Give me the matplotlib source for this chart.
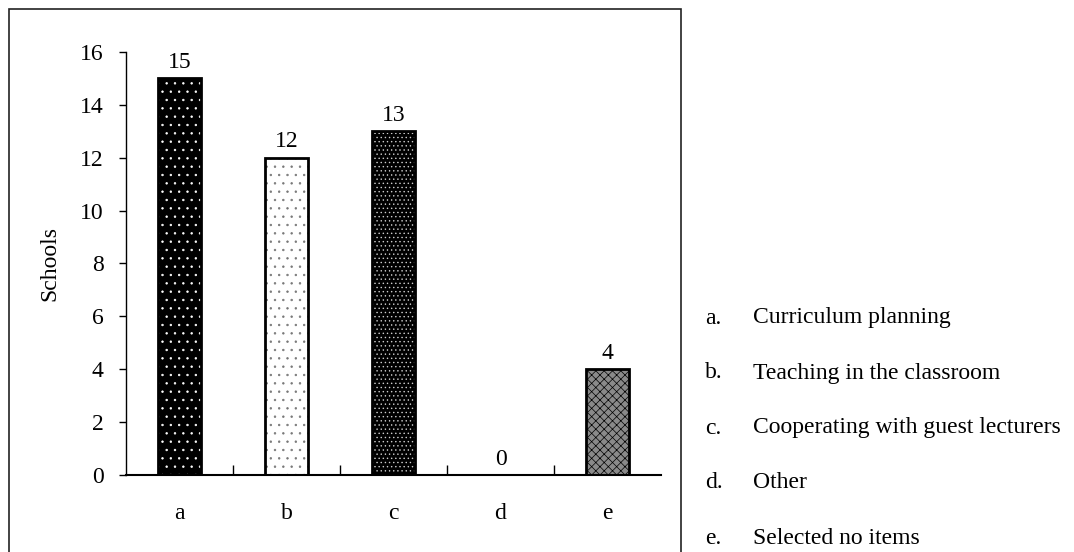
import matplotlib.pyplot as plt
from matplotlib.patches import Rectangle

plt.rcParams["font.family"] = ["Liberation Serif", "DejaVu Serif"]
plt.rcParams["hatch.linewidth"] = 0.5

categories = ["a", "b", "c", "d", "e"]
schools = [15, 12, 13, 0, 4]
legend_labels = [
    "Curriculum planning",
    "Teaching in the classroom",
    "Cooperating with guest lecturers",
    "Other",
    "Selected no items",
]

# face colour, hatch colour, hatch pattern
styles = [
    ("black", "white", ".."),
    ("white", "#777777", ".."),
    ("black", "#cccccc", "...."),
    ("white", "#777777", ".."),
    ("#8a8a8a", "black", "xxxx"),
]

FS = 17

fig = plt.figure(figsize=(10.74, 5.52), dpi=100)
ax = fig.add_axes([0.1173, 0.1395, 0.4982, 0.7663])

x = range(len(categories))
w = 0.41
for i, v in enumerate(schools):
    face, hcol, hatch = styles[i]
    if v > 0:
        ax.bar(i, v, width=w, color=face, edgecolor=hcol, hatch=hatch, linewidth=0, zorder=2)
        ax.bar(i, v, width=w, fill=False, edgecolor="black", linewidth=2, zorder=3)
    ax.text(i, v + 0.2, str(v), ha="center", va="bottom", fontsize=FS)

ax.set_xlim(-0.5, 4.5)
ax.set_ylim(0, 16)
ax.set_yticks(range(0, 17, 2))
ax.set_xticks(list(x))
ax.set_xticklabels(categories, fontsize=FS)
ax.set_xticks([0.5, 1.5, 2.5, 3.5], minor=True)
ax.tick_params(axis="x", which="major", length=0, pad=20)
ax.tick_params(axis="x", which="minor", direction="in", length=7, width=1)
ax.tick_params(axis="y", direction="out", length=5, width=1, labelsize=FS, pad=11)
ax.set_ylabel("Schools", fontsize=FS, labelpad=14)
for s in ["top", "right"]:
    ax.spines[s].set_visible(False)
ax.spines["left"].set_linewidth(1)
ax.spines["bottom"].set_linewidth(1.5)

# outer frame around the chart
fig.patches.append(Rectangle((9 / 1074, -0.1), 672 / 1074, 1.1 - 9 / 552,
                             transform=fig.transFigure, fill=False,
                             edgecolor="#222222", linewidth=1.2))

legend_y = [318, 373, 428, 483, 538]
for c, lab, y in zip(categories, legend_labels, legend_y):
    fig.text(705 / 1074, 1 - y / 552, c + ".", fontsize=FS, va="center")
    fig.text(753 / 1074, 1 - y / 552, lab, fontsize=FS, va="center")

fig.savefig("out.png", dpi=100)
